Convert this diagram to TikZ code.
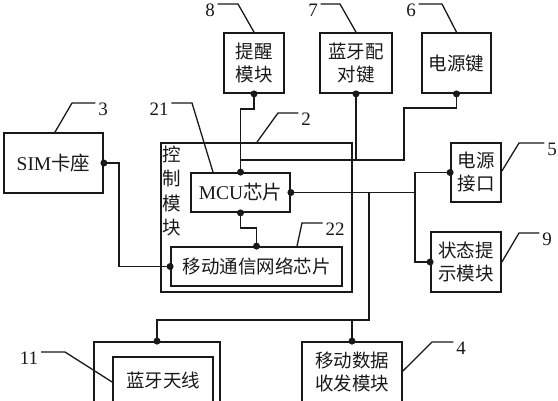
\documentclass[tikz,border=0pt]{standalone}
\usepackage{fontspec}
\setmainfont{Liberation Serif}
\newfontfamily\cjk{Noto Sans CJK SC}
\usepackage{tikz}

\begin{document}
\begin{tikzpicture}[x=1pt, y=-1pt, line width=1.8pt, color=black!90,
	box/.style={draw, rectangle, inner sep=0pt, align=center, font=\cjk\fontsize{18.5}{23}\selectfont},
	num/.style={inner sep=2pt, font=\fontsize{19}{20}\selectfont},
	lead/.style={line width=1.3pt},
	dot/.style={circle, fill, inner sep=0pt, minimum size=7pt}]
	\useasboundingbox (0,0) rectangle (558,400);
	\clip (0,0) rectangle (558,400);
	\path (254,63) node[box, minimum width=60, minimum height=60] (remind){提醒\\模块}
		(356,63) node[box, minimum width=72, minimum height=60] (pair){蓝牙配\\对键}
		(456.5,63) node[box, minimum width=69, minimum height=60] (power){电源键}
		(53.5,163) node[box, minimum width=99, minimum height=60] (sim){\rmfamily\fontsize{19.5}{23}\selectfont SIM\cjk 卡座}
		(256.5,217.5) node[box, minimum width=191, minimum height=149] (ctrl){}
		(172,191) node[box, draw=none, font=\cjk\fontsize{18.5}{24.5}\selectfont] (ctrlname){控\\制\\模\\块}
		(240.5,192.5) node[box, minimum width=99, minimum height=39] (mcu){\rmfamily\fontsize{19.5}{23}\selectfont MCU\cjk 芯片}
		(256.5,266.5) node[box, minimum width=171, minimum height=39] (net){移动通信网络芯片}
		(476,172.5) node[box, minimum width=50, minimum height=59] (plug){电源\\接口}
		(466,262) node[box, minimum width=70, minimum height=60] (state){状态提\\示模块}
		(352,372) node[box, minimum width=100, minimum height=60] (data){移动数据\\收发模块}
		(157,376) node[box, minimum width=126, minimum height=68] (btbox){}
		(163,380) node[box, minimum width=100, minimum height=46] (btant){蓝牙天线};
	
	\path (210,10) node[num] (n8){8}
		(313,10) node[num] (n7){7}
		(411,10) node[num] (n6){6}
		(103,109) node[num] (n3){3}
		(159,109) node[num] (n21){21}
		(306,119) node[num] (n2){2}
		(335,229) node[num] (n22){22}
		(552,149) node[num] (n5){5}
		(547,239) node[num] (n9){9}
		(461,348) node[num] (n4){4}
		(29,358) node[num] (n11){11};
	
	\draw[lead] (remind.north) -- (238,4) -- (n8.east |- 0,4)
		(pair.north) -- (340,4) -- (n7.east |- 0,4)
		(power.north) -- (442,4) -- (n6.east |- 0,4)
		(sim.north -| 55,0) -- (72,103) -- (n3.west |- 0,103)
		(mcu.north -| 213,0) -- (192,103) -- (n21.east |- 0,103)
		(ctrl.north -| 257,0) -- (278,113) -- (n2.west |- 0,113)
		(net.north -| 297,0) -- (302,223) -- (n22.west |- 0,223)
		(plug.east |- 0,171) -- (519,143) -- (n5.west |- 0,143)
		(state.east |- 0,262) -- (519,233) -- (n9.west |- 0,233)
		(data.east |- 0,371) -- (432,342) -- (n4.west |- 0,342)
		(btant.west |- 0,382) -- (65,352) -- (n11.east |- 0,352);
	
	\coordinate (bus) at (404,160);
	\coordinate (fork) at (415,192.5);
	\coordinate (drop) at (369,320);
	\draw (remind.south) -- ++(0,15) -| (mcu.north);
	\draw (power.south) |- (404,108) -- (bus) -| (mcu.north);
	\draw (pair.south) -- (pair.south |- bus);
	\draw (sim.east) -- ++(15,0) |- (net.west);
	\draw (mcu.south) -- ++(0,15) -| (net.north);
	\draw (mcu.east) -- (fork) |- (plug.west);
	\draw (fork) |- (state.west);
	\draw (mcu.east) -| (drop) -| (btbox.north);
	\draw (data.north) -- (data.north |- drop);
	
	\foreach \p in {remind.south, pair.south, power.south, sim.east, mcu.north, mcu.east, mcu.south, net.north, net.west, plug.west, state.west, data.north, btbox.north}
		\node[dot] at (\p) {};
\end{tikzpicture}
\end{document}
